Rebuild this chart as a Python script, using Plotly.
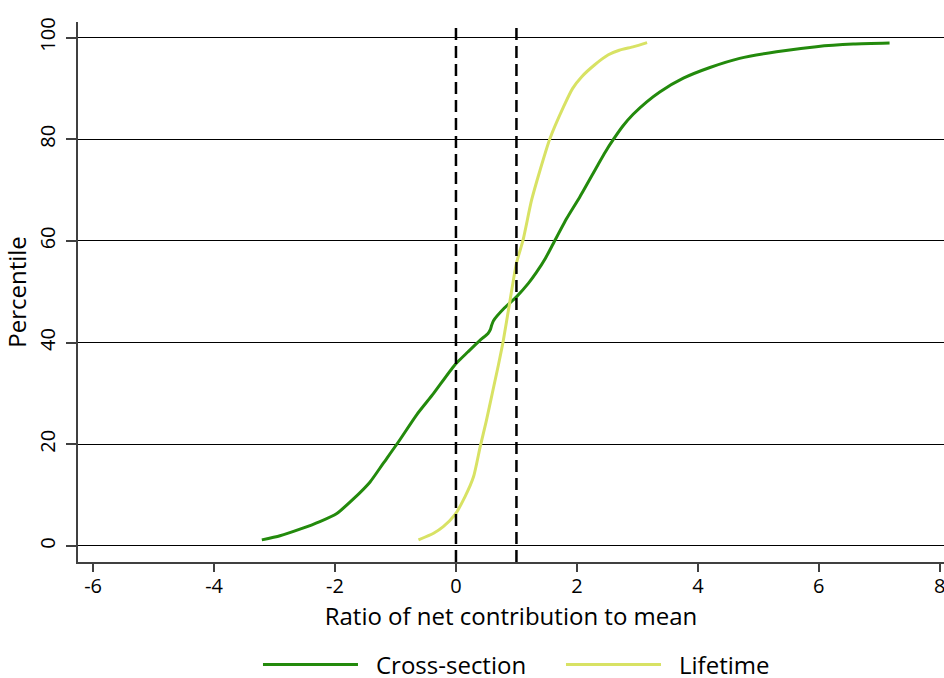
import plotly.graph_objects as go

# curva transversal (cross-section): ratio vs percentil
cross_x = [-3.21, -2.91, -2.58, -2.25, -1.97, -1.70, -1.42, -1.20, -0.95, -0.65,
           -0.37, -0.02, 0.20, 0.40, 0.53, 0.57, 0.59, 0.62, 0.80, 1.00,
           1.20, 1.33, 1.48, 1.61, 1.83, 2.05, 2.33, 2.47, 2.60, 2.76,
           2.93, 3.15, 3.37, 3.76, 4.20, 4.69, 5.30, 5.96, 6.57, 7.17]
cross_y = [1.2, 2.0, 3.3, 4.8, 6.4, 9.2, 12.6, 16.3, 20.5, 25.8,
           30.0, 35.6, 38.2, 40.5, 41.8, 42.6, 43.4, 44.3, 46.8, 49.0,
           51.7, 53.8, 56.6, 59.5, 64.4, 68.7, 74.6, 77.5, 79.9, 82.6,
           84.9, 87.3, 89.3, 92.0, 94.1, 95.9, 97.2, 98.2, 98.7, 98.9]

# curva de ciclo de vida (lifetime)
life_x = [-0.62, -0.37, -0.21, -0.02, 0.15, 0.29, 0.40, 0.50, 0.60, 0.70,
          0.78, 0.89, 1.00, 1.11, 1.25, 1.39, 1.55, 1.78, 1.93, 2.08,
          2.29, 2.52, 2.70, 2.94, 3.16]
life_y = [1.2, 2.5, 3.8, 6.1, 9.7, 13.6, 19.5, 24.5, 30.0, 35.5,
          40.2, 48.0, 55.6, 60.2, 68.0, 73.9, 80.0, 86.4, 90.0, 92.3,
          94.6, 96.6, 97.5, 98.2, 99.0]

ref_lines = [0, 1]  # lineas verticales discontinuas
x_ticks = [-6, -4, -2, 0, 2, 4, 6, 8]
y_ticks = [0, 20, 40, 60, 80, 100]
series_names = ["Cross-section", "Lifetime"]
colors = ["#238a0c", "#d8e264"]

font = "Open Sans"
fsize = 20

fig = go.Figure()
fig.add_trace(go.Scatter(x=cross_x, y=cross_y, mode="lines", name=series_names[0],
                         line=dict(color=colors[0], width=3, shape="spline", smoothing=0.6),
                         showlegend=False))
fig.add_trace(go.Scatter(x=life_x, y=life_y, mode="lines", name=series_names[1],
                         line=dict(color=colors[1], width=3, shape="spline", smoothing=0.6),
                         showlegend=False))

shapes = []
for xv in ref_lines:
    shapes.append(dict(type="line", xref="x", yref="paper", x0=xv, x1=xv, y0=0, y1=1,
                       line=dict(color="black", width=2.5, dash="12px,6px")))

# leyenda dibujada a mano para tener las lineas largas
legend_y = -0.19
legend_pos = [(0.2136, 0.3233, 0.343), (0.5635, 0.6732, 0.6928)]
annotations = []
for (x0, x1, xt), name, col in zip(legend_pos, series_names, colors):
    shapes.append(dict(type="line", xref="paper", yref="paper", x0=x0, x1=x1,
                       y0=legend_y, y1=legend_y, line=dict(color=col, width=3)))
    annotations.append(dict(xref="paper", yref="paper", x=xt, y=legend_y, text=name,
                            showarrow=False, xanchor="left", yanchor="middle", borderpad=0,
                            font=dict(family=font, size=24, color="black")))

fig.update_layout(
    width=944, height=678,
    margin=dict(l=78, r=0, t=22, b=116),
    plot_bgcolor="white", paper_bgcolor="white",
    font=dict(family=font, size=fsize, color="black"),
    shapes=shapes, annotations=annotations,
    xaxis=dict(range=[-6.25, 8.07], tickvals=x_ticks,
               ticktext=[str(v) for v in x_ticks], ticklabeloverflow="allow",
               showgrid=False, zeroline=False, showline=True, linecolor="#404040", linewidth=1.5,
               ticks="outside", ticklen=8, tickcolor="#404040", tickwidth=1.5,
               ticklabelstandoff=-3,
               title=dict(text="Ratio of net contribution to mean", standoff=0)),
    yaxis=dict(range=[-3.15, 103.05], tickvals=y_ticks, tickangle=-90,
               showgrid=True, gridcolor="black", gridwidth=1.2, zeroline=False,
               showline=True, linecolor="#404040", linewidth=1.5,
               ticks="outside", ticklen=10, tickcolor="#404040", tickwidth=1.5,
               ticklabelstandoff=3,
               title=dict(text="Percentile", standoff=1)),
)

# quitar el margen del body para que la figura ocupe toda la ventana
fig.write_html("out.html", config={"displayModeBar": False},
               post_script="document.body.style.margin='0';document.body.style.overflow='hidden';")
